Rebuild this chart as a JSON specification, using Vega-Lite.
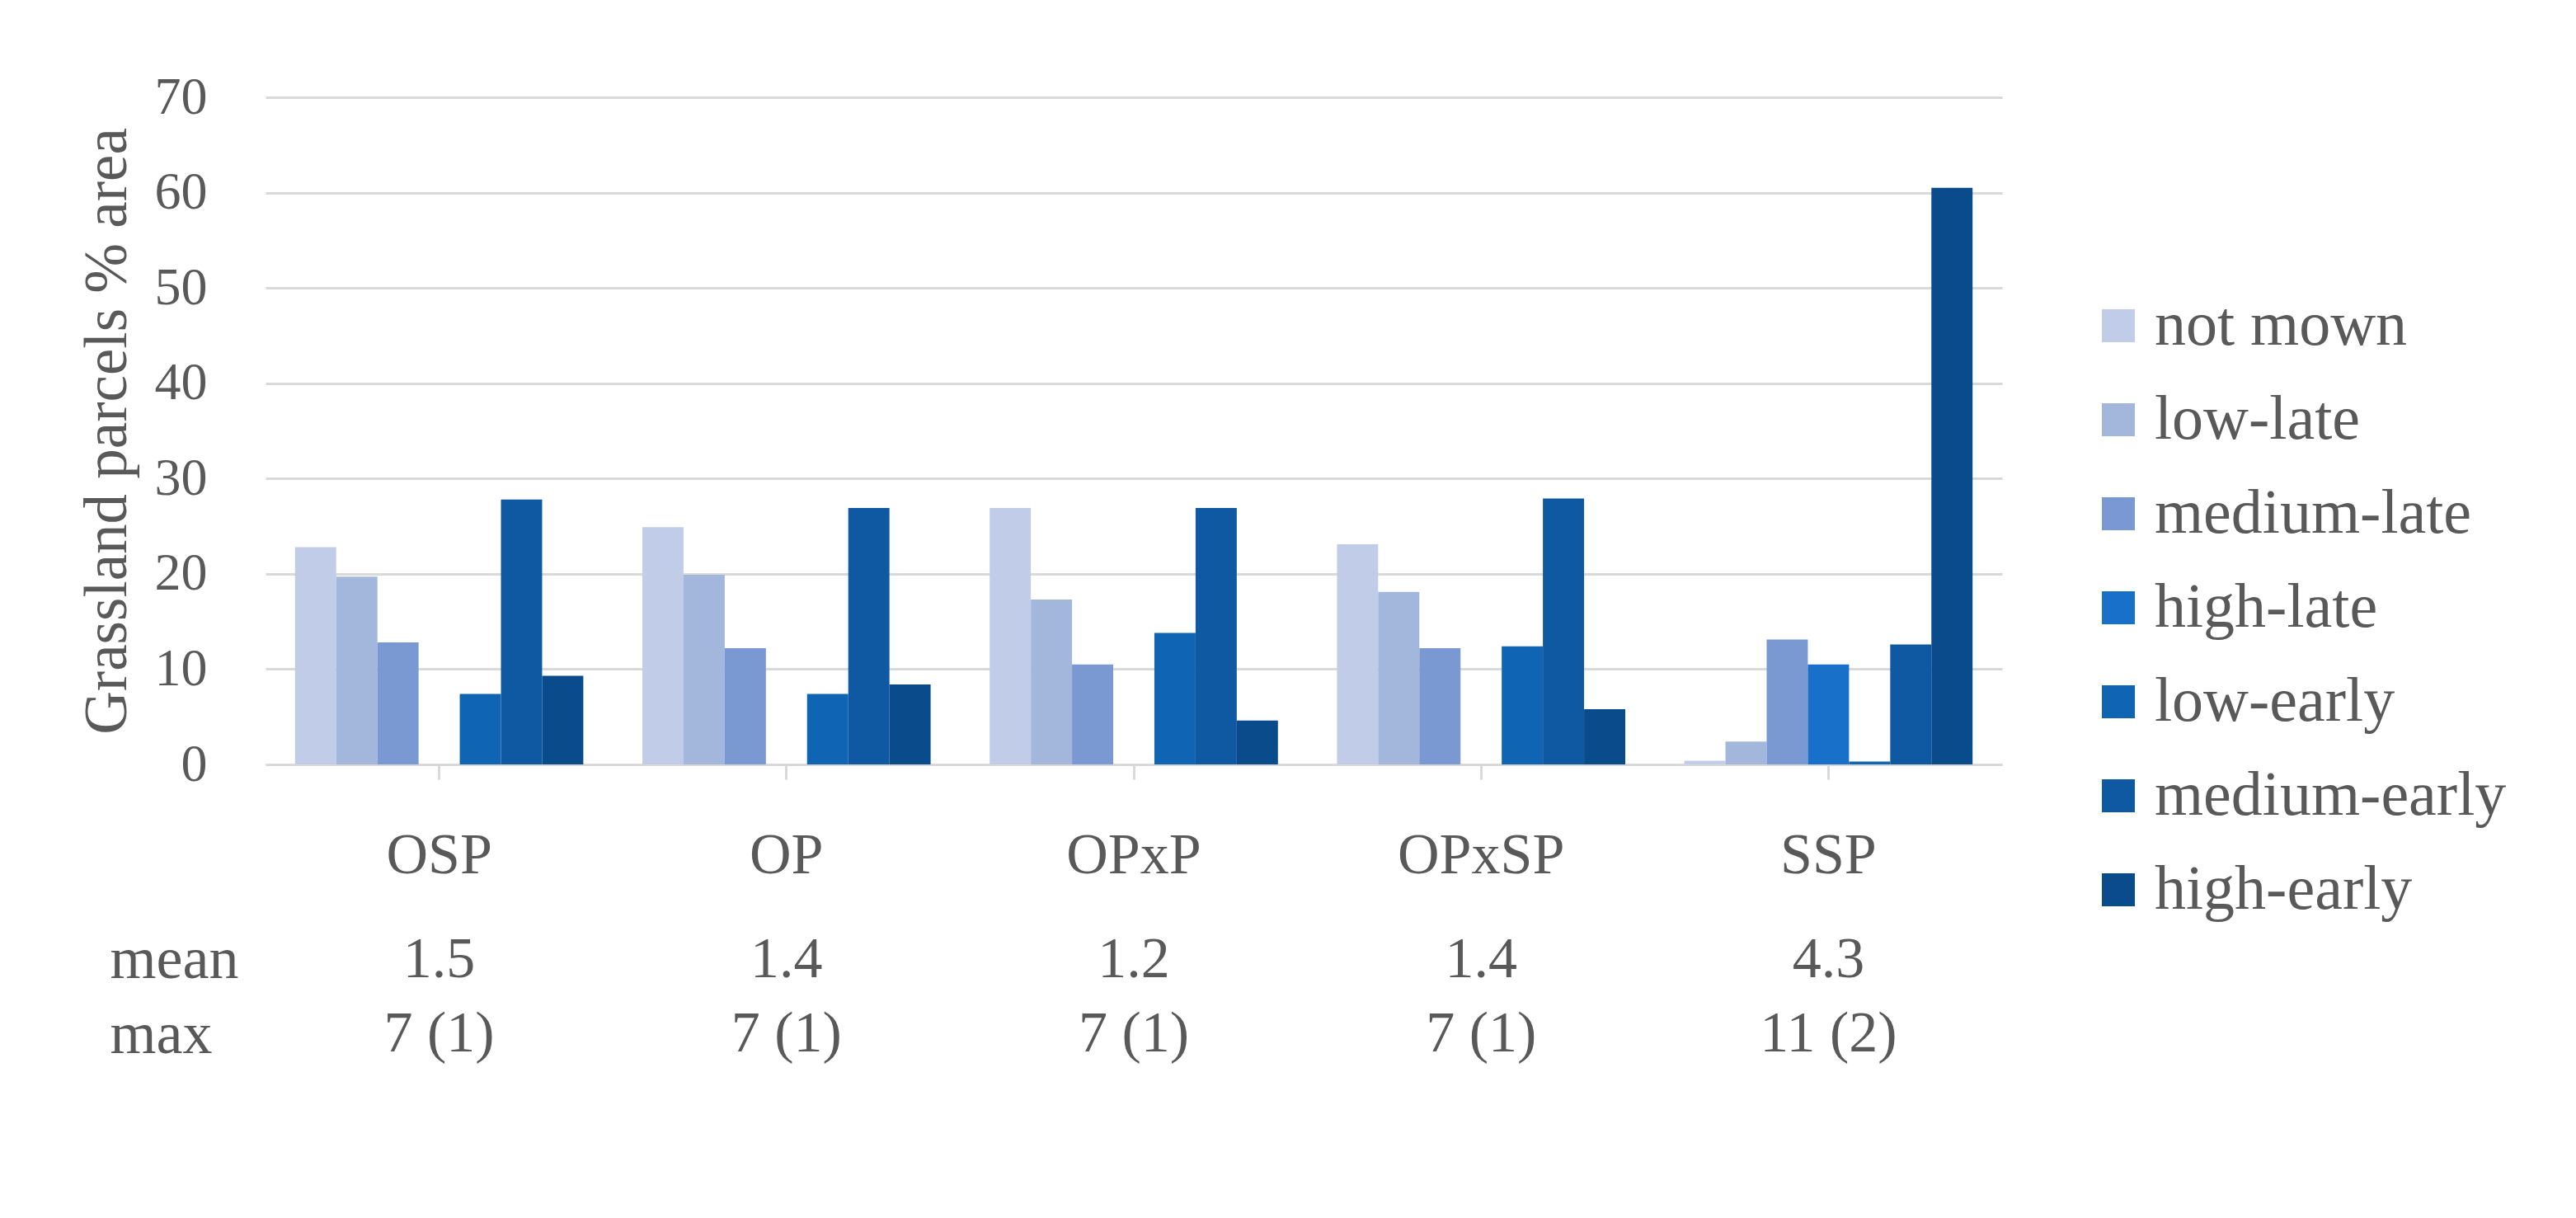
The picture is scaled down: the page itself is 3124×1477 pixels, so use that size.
{
  "$schema": "https://vega.github.io/schema/vega-lite/v6.json",
  "background": "white",
  "padding": {"left": 94, "top": 86, "right": 10, "bottom": 10},
  "config": {"view": {"stroke": null}, "font": "Liberation Serif"},
  "spacing": 10,
  "resolve": {"legend": {"color": "independent"}},
  "vconcat": [
    {
      "width": 2106,
      "height": 809,
      "data": {"values": [
        {"treatment": "OSP", "regime": "not mown", "pct": 22.8},
        {"treatment": "OSP", "regime": "low-late", "pct": 19.7},
        {"treatment": "OSP", "regime": "medium-late", "pct": 12.8},
        {"treatment": "OSP", "regime": "low-early", "pct": 7.4},
        {"treatment": "OSP", "regime": "medium-early", "pct": 27.8},
        {"treatment": "OSP", "regime": "high-early", "pct": 9.3},
        {"treatment": "OP", "regime": "not mown", "pct": 24.9},
        {"treatment": "OP", "regime": "low-late", "pct": 19.9},
        {"treatment": "OP", "regime": "medium-late", "pct": 12.2},
        {"treatment": "OP", "regime": "low-early", "pct": 7.4},
        {"treatment": "OP", "regime": "medium-early", "pct": 26.9},
        {"treatment": "OP", "regime": "high-early", "pct": 8.4},
        {"treatment": "OPxP", "regime": "not mown", "pct": 26.9},
        {"treatment": "OPxP", "regime": "low-late", "pct": 17.3},
        {"treatment": "OPxP", "regime": "medium-late", "pct": 10.5},
        {"treatment": "OPxP", "regime": "low-early", "pct": 13.8},
        {"treatment": "OPxP", "regime": "medium-early", "pct": 26.9},
        {"treatment": "OPxP", "regime": "high-early", "pct": 4.6},
        {"treatment": "OPxSP", "regime": "not mown", "pct": 23.1},
        {"treatment": "OPxSP", "regime": "low-late", "pct": 18.1},
        {"treatment": "OPxSP", "regime": "medium-late", "pct": 12.2},
        {"treatment": "OPxSP", "regime": "low-early", "pct": 12.4},
        {"treatment": "OPxSP", "regime": "medium-early", "pct": 27.9},
        {"treatment": "OPxSP", "regime": "high-early", "pct": 5.8},
        {"treatment": "SSP", "regime": "not mown", "pct": 0.4},
        {"treatment": "SSP", "regime": "low-late", "pct": 2.4},
        {"treatment": "SSP", "regime": "medium-late", "pct": 13.1},
        {"treatment": "SSP", "regime": "high-late", "pct": 10.5},
        {"treatment": "SSP", "regime": "low-early", "pct": 0.3},
        {"treatment": "SSP", "regime": "medium-early", "pct": 12.6},
        {"treatment": "SSP", "regime": "high-early", "pct": 60.5}
      ]},
      "mark": {"type": "bar"},
      "encoding": {
        "x": {
          "field": "treatment", "type": "nominal",
          "sort": ["OSP", "OP", "OPxP", "OPxSP", "SSP"],
          "scale": {"paddingInner": 0.17, "paddingOuter": 0.085},
          "axis": {
            "title": null, "labelAngle": 0, "labelFontSize": 70, "labelColor": "#595959",
            "labelFont": "Liberation Serif", "labelLimit": 1000, "domainColor": "#d9d9d9", "domainWidth": 3,
            "tickColor": "#d9d9d9", "tickWidth": 3, "tickSize": 18, "labelPadding": 58, "grid": false
          }
        },
        "xOffset": {
          "field": "regime", "type": "nominal",
          "scale": {"domain": ["not mown", "low-late", "medium-late", "high-late", "low-early", "medium-early", "high-early"], "paddingInner": 0, "paddingOuter": 0}
        },
        "y": {
          "field": "pct", "type": "quantitative",
          "scale": {"domain": [0, 70]},
          "axis": {
            "title": "Grassland parcels % area", "values": [0, 10, 20, 30, 40, 50, 60, 70],
            "domain": false, "ticks": false, "tickSize": 0, "labelPadding": 71,
            "labelFontSize": 64, "labelColor": "#595959", "labelFont": "Liberation Serif",
            "gridColor": "#d9d9d9", "gridWidth": 3,
            "titleFontSize": 73, "titleFontWeight": "normal", "titleColor": "#595959",
            "titleFont": "Liberation Serif", "titlePadding": 20
          }
        },
        "color": {
          "field": "regime", "type": "nominal",
          "scale": {
            "domain": ["not mown", "low-late", "medium-late", "high-late", "low-early", "medium-early", "high-early"],
            "range": ["#c1cde8", "#a3b7dd", "#7a98d2", "#1970c8", "#0f65b4", "#0e59a1", "#0a4c8b"]
          },
          "legend": {
            "title": null, "orient": "none", "legendX": 2209, "legendY": 239,
            "symbolType": "square", "symbolSize": 1600, "symbolStrokeWidth": 0,
            "labelFontSize": 76, "labelColor": "#595959", "labelFont": "Liberation Serif",
            "labelOffset": 6, "rowPadding": 38, "padding": 0, "labelLimit": 1000
          }
        }
      }
    },
    {
      "width": 2106,
      "height": 164,
      "data": {"values": [
        {"treatment": "OSP", "stat": "mean", "value": "1.5"},
        {"treatment": "OP", "stat": "mean", "value": "1.4"},
        {"treatment": "OPxP", "stat": "mean", "value": "1.2"},
        {"treatment": "OPxSP", "stat": "mean", "value": "1.4"},
        {"treatment": "SSP", "stat": "mean", "value": "4.3"},
        {"treatment": "OSP", "stat": "max", "value": "7 (1)"},
        {"treatment": "OP", "stat": "max", "value": "7 (1)"},
        {"treatment": "OPxP", "stat": "max", "value": "7 (1)"},
        {"treatment": "OPxSP", "stat": "max", "value": "7 (1)"},
        {"treatment": "SSP", "stat": "max", "value": "11 (2)"}
      ]},
      "mark": {"type": "text", "fontSize": 70, "color": "#595959", "font": "Liberation Serif"},
      "encoding": {
        "x": {
          "field": "treatment", "type": "nominal",
          "sort": ["OSP", "OP", "OPxP", "OPxSP", "SSP"],
          "scale": {"paddingInner": 0.17, "paddingOuter": 0.085},
          "axis": null
        },
        "y": {
          "field": "stat", "type": "nominal", "sort": ["mean", "max"],
          "scale": {"padding": 0.411},
          "axis": {
            "title": null, "domain": false, "ticks": false, "tickSize": 0,
            "labelAlign": "left", "labelPadding": 189, "labelFontSize": 72,
            "labelColor": "#595959", "labelFont": "Liberation Serif"
          }
        },
        "text": {"field": "value"}
      }
    }
  ]
}
